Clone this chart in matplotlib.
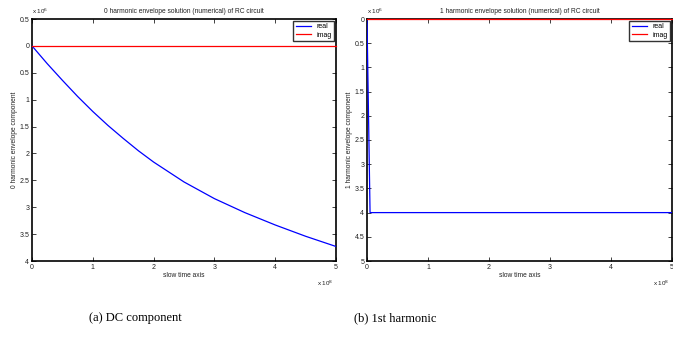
import numpy as np
import matplotlib
matplotlib.use('Agg')
import matplotlib.pyplot as plt
from matplotlib.ticker import FuncFormatter

# ── data (x in units of 1e8, y in units of 1e6) ──
dc_x = [0, 0.25, 0.5, 0.75, 1.0, 1.25, 1.5, 1.75, 2.0, 2.5, 3.0, 3.5, 4.0, 4.5, 5.0]
dc_real = [0, -0.33, -0.64, -0.94, -1.22, -1.48, -1.72, -1.95, -2.16,
           -2.53, -2.84, -3.10, -3.33, -3.54, -3.73]
dc_imag = [0] * len(dc_x)

h1_x = [0, 0.05, 5.0]
h1_real = [0, -4.0, -4.0]
h1_imag = [0, 0, 0]

TITLES = ['0 harmonic envelope solution (numerical) of RC circuit',
          '1 harmonic envelope solution (numerical) of RC circuit']
YLABELS = ['0 harmonic envelope component', '1 harmonic envelope component']
CAPTIONS = ['(a) DC component', '(b) 1st harmonic']

plt.rcParams['font.family'] = ['Liberation Sans', 'DejaVu Sans']
fig = plt.figure(figsize=(6.73, 3.41), dpi=100)

W, H = 673, 341
def box(x0, y0, x1, y1):
    return [x0 / W, 1 - y1 / H, (x1 - x0) / W, (y1 - y0) / H]

ax1 = fig.add_axes(box(32, 19, 336, 261))
ax2 = fig.add_axes(box(367, 19, 672, 261))

abs_fmt = FuncFormatter(lambda v, p: ('%g' % abs(round(v, 2))))

panels = [
    (ax1, dc_x, dc_real, dc_imag, (-4, 0.5)),
    (ax2, h1_x, h1_real, h1_imag, (-5, 0)),
]

for i, (ax, x, re, im, ylim) in enumerate(panels):
    ax.plot(x, re, color='#0000ff', lw=0.9, label='real', zorder=3)
    ax.plot(x, im, color='#ff0000', lw=0.9, label='imag', clip_on=False, zorder=3)
    ax.set_xlim(0, 5)
    ax.set_ylim(*ylim)
    ax.set_xticks(np.arange(0, 5.01, 1))
    ax.set_yticks(np.arange(ylim[0], ylim[1] + 0.01, 0.5))
    ax.xaxis.set_major_formatter(FuncFormatter(lambda v, p: '%g' % v))
    ax.yaxis.set_major_formatter(abs_fmt)
    ax.tick_params(direction='in', length=3, width=0.6, labelsize=5,
                   top=True, right=True, pad=2, colors='#222222')
    for sp in ax.spines.values():
        sp.set_linewidth(1.2)
        sp.set_color('black')
    ax.set_title(TITLES[i], fontsize=4.8, pad=4, color='#222222')
    ax.set_xlabel('slow time axis', fontsize=4.8, labelpad=1, color='#222222')
    ax.set_ylabel(YLABELS[i], fontsize=4.8, labelpad=1, color='#222222')
    ax.text(0.0, 1.012, r'x 10$^6$', transform=ax.transAxes, fontsize=4.5,
            ha='left', va='bottom', color='#222222')
    ax.text(0.99, -0.075, r'x 10$^8$', transform=ax.transAxes, fontsize=4.5,
            ha='right', va='top', color='#222222')
    leg = ax.legend(loc='upper right', fontsize=5, frameon=True, fancybox=False,
                    handlelength=2.2, handletextpad=0.8, borderpad=0.35,
                    labelspacing=0.2, borderaxespad=0.25)
    leg.get_frame().set_edgecolor('black')
    leg.get_frame().set_linewidth(1.0)

fig.text(135 / W, 1 - 318 / H, CAPTIONS[0], family='Liberation Serif',
         fontsize=9, ha='center', va='center')
fig.text(395 / W, 1 - 318 / H, CAPTIONS[1], family='Liberation Serif',
         fontsize=9, ha='center', va='center')

fig.savefig('out.png', dpi=100, facecolor='white')
